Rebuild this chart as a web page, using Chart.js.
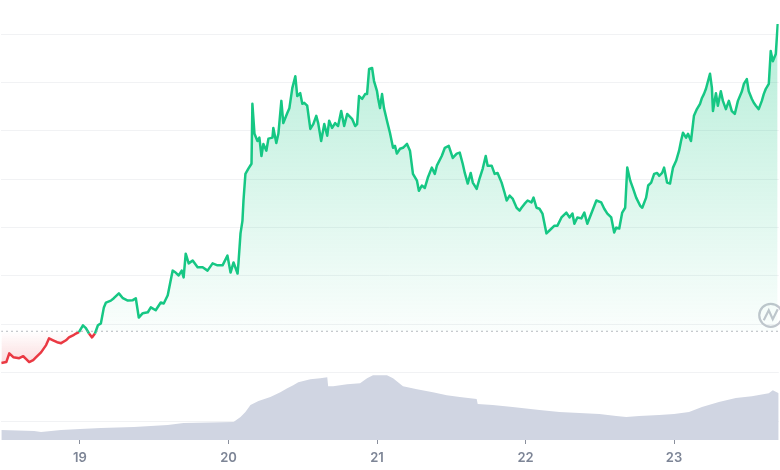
<!DOCTYPE html>
<html>
<head>
<meta charset="utf-8">
<script src="https://cdn.jsdelivr.net/npm/chart.js@4.4.1/dist/chart.umd.min.js"></script>
<style>
  html, body { margin: 0; padding: 0; background: #fff; }
  #wrap { width: 780px; height: 470px; }
</style>
</head>
<body>
<div id="wrap"><canvas id="priceChart"></canvas></div>
<script>
// price (day of month, fractional) and value
const priceTimes = [18.470, 18.504, 18.524, 18.551, 18.591, 18.618, 18.638, 18.658, 18.685, 18.705,
  18.738, 18.772, 18.792, 18.819, 18.846, 18.873, 18.906, 18.926, 18.953, 18.973,
  18.993, 19.020, 19.040, 19.061, 19.081, 19.101, 19.121, 19.141, 19.161, 19.175,
  19.208, 19.228, 19.262, 19.289, 19.322, 19.356, 19.376, 19.396, 19.423, 19.457,
  19.477, 19.510, 19.544, 19.564, 19.591, 19.611, 19.624, 19.644, 19.665, 19.685,
  19.698, 19.712, 19.732, 19.759, 19.792, 19.826, 19.859, 19.893, 19.926, 19.960,
  19.993, 20.014, 20.034, 20.061, 20.067, 20.081, 20.094, 20.101, 20.114, 20.134,
  20.155, 20.161, 20.175, 20.195, 20.208, 20.222, 20.235, 20.255, 20.269, 20.296,
  20.302, 20.322, 20.336, 20.356, 20.369, 20.396, 20.410, 20.430, 20.450, 20.463,
  20.483, 20.497, 20.510, 20.530, 20.551, 20.571, 20.591, 20.604, 20.624, 20.645,
  20.665, 20.678, 20.698, 20.718, 20.738, 20.759, 20.779, 20.799, 20.832, 20.853,
  20.866, 20.879, 20.900, 20.920, 20.933, 20.947, 20.967, 20.980, 21.000, 21.007,
  21.020, 21.034, 21.047, 21.067, 21.087, 21.108, 21.121, 21.134, 21.155, 21.175,
  21.202, 21.222, 21.242, 21.269, 21.282, 21.302, 21.322, 21.342, 21.369, 21.389,
  21.403, 21.436, 21.457, 21.483, 21.510, 21.537, 21.557, 21.577, 21.591, 21.611,
  21.631, 21.645, 21.671, 21.692, 21.712, 21.732, 21.745, 21.772, 21.792, 21.812,
  21.839, 21.859, 21.873, 21.893, 21.913, 21.940, 21.960, 21.973, 21.993, 22.014,
  22.040, 22.054, 22.074, 22.094, 22.114, 22.141, 22.161, 22.195, 22.215, 22.242,
  22.275, 22.296, 22.316, 22.329, 22.349, 22.376, 22.396, 22.416, 22.443, 22.477,
  22.510, 22.530, 22.551, 22.577, 22.597, 22.611, 22.631, 22.651, 22.671, 22.685,
  22.705, 22.725, 22.745, 22.772, 22.786, 22.812, 22.826, 22.846, 22.866, 22.886,
  22.900, 22.920, 22.933, 22.953, 22.973, 22.993, 23.014, 23.034, 23.047, 23.060,
  23.081, 23.094, 23.114, 23.134, 23.154, 23.175, 23.188, 23.201, 23.215, 23.242,
  23.255, 23.262, 23.282, 23.295, 23.315, 23.329, 23.349, 23.369, 23.389, 23.409,
  23.430, 23.457, 23.470, 23.490, 23.503, 23.524, 23.537, 23.551, 23.570, 23.591,
  23.604, 23.618, 23.638, 23.651, 23.665, 23.685, 23.698];
const prices = [1.20, 1.22, 1.40, 1.32, 1.30, 1.34, 1.28, 1.22, 1.26, 1.32,
  1.42, 1.57, 1.71, 1.67, 1.63, 1.61, 1.67, 1.73, 1.77, 1.81,
  1.84, 1.98, 1.92, 1.81, 1.73, 1.81, 1.98, 2.02, 2.35, 2.45,
  2.49, 2.54, 2.64, 2.54, 2.49, 2.50, 2.54, 2.14, 2.23, 2.25,
  2.35, 2.29, 2.45, 2.43, 2.60, 2.91, 3.11, 3.07, 3.01, 3.11,
  2.97, 3.46, 3.26, 3.32, 3.18, 3.18, 3.11, 3.26, 3.22, 3.22,
  3.42, 3.07, 3.28, 3.05, 3.26, 3.88, 4.14, 4.56, 5.11, 5.22,
  5.32, 6.56, 5.94, 5.79, 5.86, 5.48, 5.73, 5.59, 5.84, 5.86,
  6.06, 5.75, 5.94, 6.62, 6.16, 6.37, 6.47, 6.89, 7.13, 6.72,
  6.78, 6.56, 6.58, 6.52, 6.04, 6.14, 6.31, 6.16, 5.79, 6.14,
  5.90, 6.21, 6.06, 6.16, 6.10, 6.41, 6.10, 6.35, 6.25, 6.10,
  6.14, 6.72, 6.66, 6.76, 6.76, 7.28, 7.30, 7.03, 6.82, 6.68,
  6.47, 6.76, 6.47, 6.21, 5.96, 5.65, 5.69, 5.53, 5.63, 5.65,
  5.73, 5.59, 5.11, 4.97, 4.76, 4.87, 4.82, 5.03, 5.24, 5.11,
  5.28, 5.48, 5.65, 5.69, 5.44, 5.53, 5.55, 5.32, 5.13, 4.91,
  5.13, 4.93, 4.80, 5.03, 5.22, 5.48, 5.28, 5.28, 5.11, 5.13,
  4.93, 4.72, 4.56, 4.66, 4.60, 4.41, 4.35, 4.41, 4.49, 4.56,
  4.52, 4.62, 4.41, 4.39, 4.29, 3.88, 3.94, 4.04, 4.04, 4.21,
  4.31, 4.21, 4.29, 4.08, 4.21, 4.19, 4.31, 4.08, 4.29, 4.56,
  4.52, 4.39, 4.29, 4.21, 3.90, 4.00, 3.98, 4.31, 4.41, 5.24,
  4.97, 4.80, 4.62, 4.45, 4.41, 4.62, 4.87, 4.93, 5.11, 5.13,
  5.07, 5.13, 5.24, 4.93, 4.91, 5.24, 5.38, 5.59, 5.79, 5.96,
  5.86, 5.94, 5.79, 6.31, 6.45, 6.56, 6.68, 6.76, 6.87, 7.18,
  6.89, 6.41, 6.78, 6.52, 6.82, 6.62, 6.45, 6.62, 6.41, 6.35,
  6.62, 6.82, 6.97, 7.07, 6.82, 6.66, 6.58, 6.52, 6.45, 6.62,
  6.76, 6.87, 6.97, 7.65, 7.44, 7.59, 8.21];

// volume
const volumeTimes = [18.470, 18.691, 18.738, 18.873, 19.000, 19.141, 19.363, 19.591, 19.698, 20.034,
  20.081, 20.114, 20.148, 20.202, 20.282, 20.349, 20.396, 20.436, 20.470, 20.551,
  20.618, 20.665, 20.671, 20.705, 20.799, 20.886, 20.933, 20.973, 21.067, 21.108,
  21.175, 21.269, 21.376, 21.470, 21.557, 21.671, 21.678, 21.779, 21.913, 22.094,
  22.228, 22.363, 22.497, 22.611, 22.678, 22.765, 22.900, 23.000, 23.101, 23.188,
  23.302, 23.416, 23.524, 23.638, 23.665, 23.705];
const volumes = [5.0, 4.5, 4.0, 5.0, 5.5, 6.0, 6.5, 7.5, 8.5, 9.0,
  11.5, 14.0, 17.5, 19.5, 21.5, 24.0, 26.0, 27.5, 29.0, 30.5,
  31.0, 31.5, 27.0, 27.0, 28.0, 28.5, 31.0, 32.5, 32.5, 31.0,
  27.0, 25.5, 24.0, 22.5, 21.5, 20.5, 18.0, 17.5, 16.5, 15.0,
  14.0, 13.5, 13.0, 12.0, 11.5, 12.0, 12.5, 13.0, 14.0, 16.5,
  19.0, 21.0, 22.0, 23.5, 25.0, 23.5];

const dayTicks = [19, 20, 21, 22, 23];
const basePrice = 1.856;   // opening price, the dotted line
const xRange = [18.47, 23.705];
const priceRange = [-0.392, 8.68];
const volumeMax = 220;

const GREEN = '#16c784';
const RED = '#ea3943';

const priceData = priceTimes.map((t, i) => ({ x: t, y: prices[i] }));
const volumeData = volumeTimes.map((t, i) => ({ x: t, y: volumes[i] }));

// faint watermark logo in the lower right of the price area
const watermark = {
  id: 'watermark',
  beforeDatasetsDraw(chart) {
    const { ctx, chartArea, scales } = chart;
    const cx = chartArea.right - 8;
    const cy = scales.y.getPixelForValue(basePrice) - 16;
    ctx.save();
    ctx.strokeStyle = '#c3c6ce';
    ctx.lineWidth = 2.2;
    ctx.beginPath();
    ctx.arc(cx, cy, 11.5, 0, Math.PI * 2);
    ctx.stroke();
    ctx.beginPath();
    ctx.moveTo(cx - 7, cy + 5);
    ctx.lineTo(cx - 2, cy - 5);
    ctx.lineTo(cx + 2, cy + 4);
    ctx.lineTo(cx + 7, cy - 6);
    ctx.stroke();
    ctx.restore();
  }
};

const ctx = document.getElementById('priceChart').getContext('2d');

const chart = new Chart(ctx, {
  type: 'line',
  data: {
    datasets: [
      {
        label: 'Base',
        data: [{ x: xRange[0], y: basePrice }, { x: xRange[1], y: basePrice }],
        borderColor: '#9fa3ab',
        borderWidth: 1,
        borderDash: [1.5, 3.5],
        pointRadius: 0,
        fill: false,
        yAxisID: 'y',
        order: 0
      },
      {
        label: 'Price',
        data: priceData,
        borderWidth: 2.5,
        borderJoinStyle: 'round',
        pointRadius: 0,
        tension: 0,
        fill: { target: { value: basePrice }, above: 'rgba(22,199,132,0.15)', below: 'rgba(234,57,67,0.1)' },
        segment: {
          borderColor: c => ((c.p0.parsed.y + c.p1.parsed.y) / 2 >= basePrice ? GREEN : RED)
        },
        borderColor: GREEN,
        yAxisID: 'y',
        order: 1
      },
      {
        label: 'Volume',
        data: volumeData,
        borderWidth: 0,
        pointRadius: 0,
        backgroundColor: '#d0d5e2',
        fill: 'origin',
        yAxisID: 'y2',
        order: 2
      }
    ]
  },
  options: {
    responsive: true,
    maintainAspectRatio: false,
    animation: false,
    layout: { padding: 0 },
    plugins: {
      legend: { display: false },
      tooltip: { enabled: false }
    },
    scales: {
      x: {
        type: 'linear',
        min: xRange[0],
        max: xRange[1],
        border: { display: false },
        grid: { drawOnChartArea: false, drawTicks: true, tickLength: 4, color: '#8a8f9c' },
        afterBuildTicks: axis => { axis.ticks = dayTicks.map(v => ({ value: v })); },
        afterFit: axis => { axis.height = 30; },
        ticks: {
          padding: 6,
          color: '#7d8596',
          font: { family: 'Inter', size: 13, weight: '600' },
          callback: v => String(v)
        }
      },
      y: {
        position: 'left',
        min: priceRange[0],
        max: priceRange[1],
        border: { display: false },
        grid: { color: '#f1f2f4', drawTicks: false, lineWidth: 1 },
        ticks: { display: false, stepSize: 1, includeBounds: false }
      },
      y2: {
        display: false,
        min: 0,
        max: volumeMax
      }
    }
  },
  plugins: [watermark]
});

// gradients need the laid-out chart area and the base price pixel
function applyGradients() {
  const area = chart.chartArea;
  const basePx = chart.scales.y.getPixelForValue(basePrice);
  const g = ctx.createLinearGradient(0, area.top + 20, 0, basePx);
  g.addColorStop(0, 'rgba(22,199,132,0.32)');
  g.addColorStop(1, 'rgba(22,199,132,0.02)');
  const r = ctx.createLinearGradient(0, basePx, 0, basePx + 40);
  r.addColorStop(0, 'rgba(234,57,67,0.0)');
  r.addColorStop(1, 'rgba(234,57,67,0.22)');
  chart.data.datasets[1].fill = { target: { value: basePrice }, above: g, below: r };
  chart.update('none');
}
applyGradients();
</script>
</body>
</html>
